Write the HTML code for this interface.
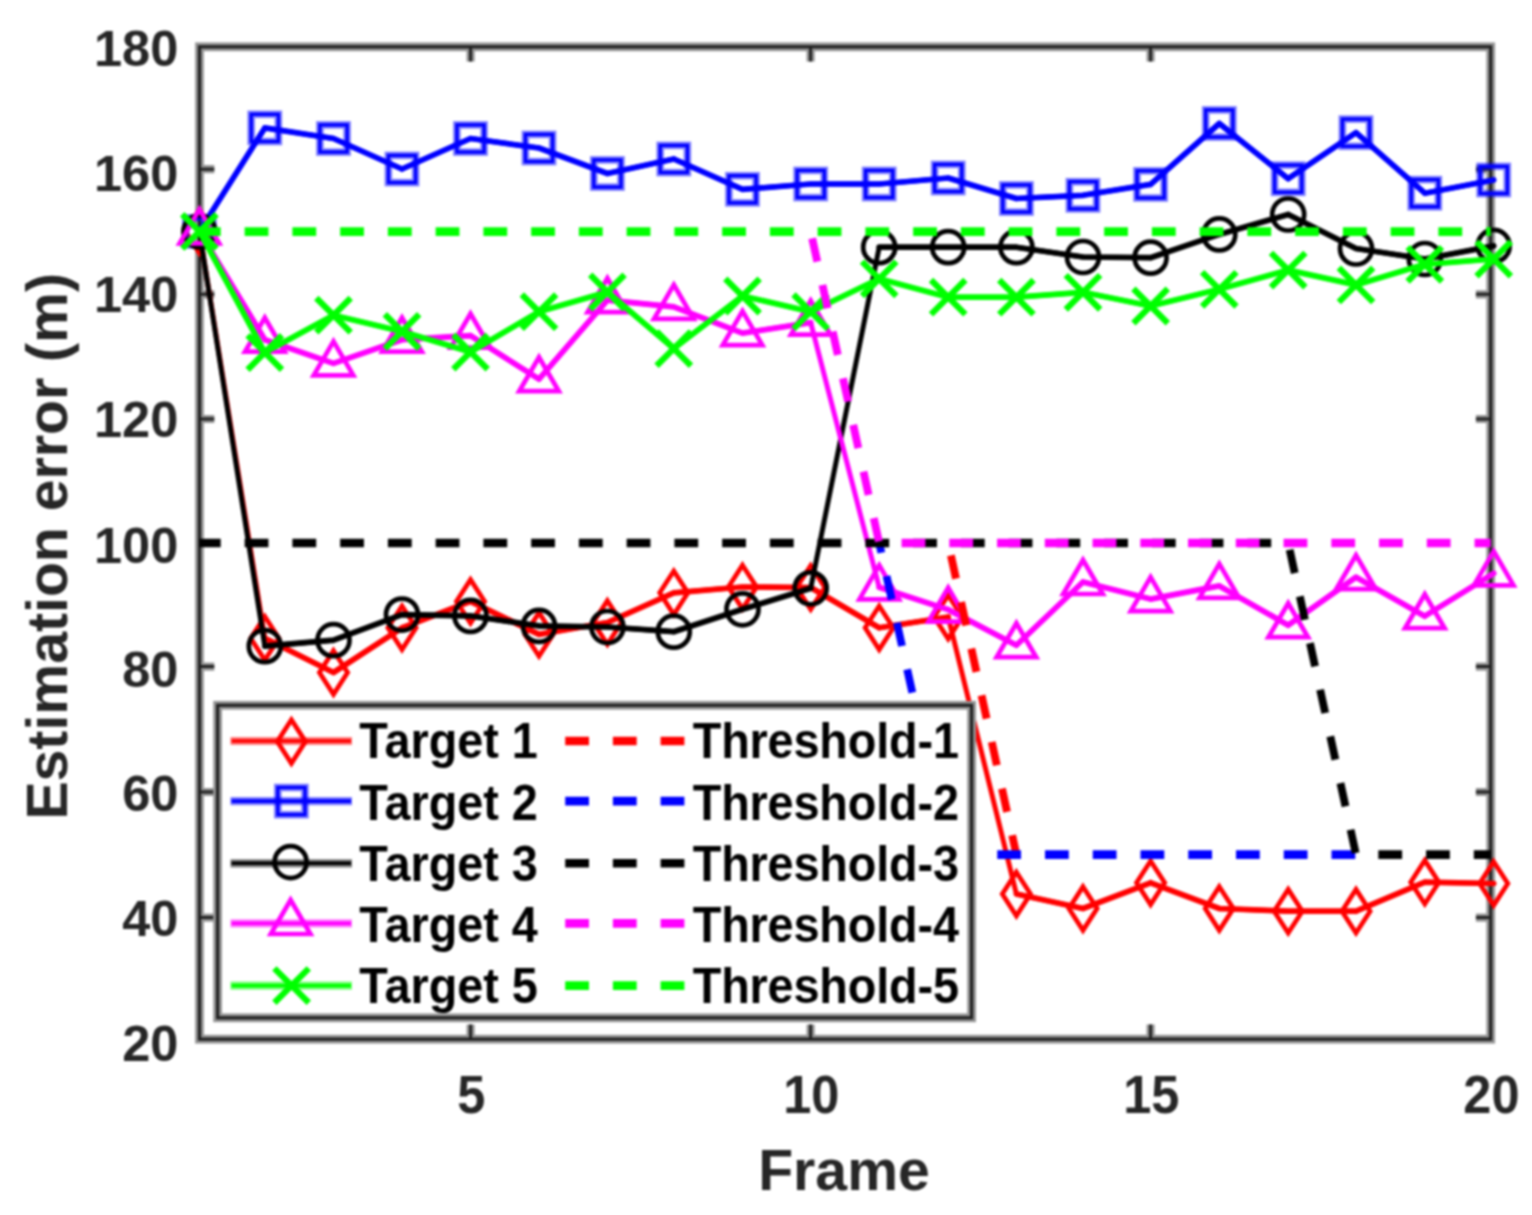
<!DOCTYPE html>
<html lang="en">
<head>
<meta charset="utf-8">
<title>Estimation error per frame</title>
<style>
html,body{margin:0;padding:0;background:#ffffff;}
body{width:1532px;height:1215px;overflow:hidden;font-family:"Liberation Sans",Arial,Helvetica,sans-serif;}
svg{display:block;}
</style>
</head>
<body>
<svg width="1532" height="1215" viewBox="0 0 1532 1215" font-family="'Liberation Sans', Arial, Helvetica, sans-serif" font-weight="bold">
<rect width="1532" height="1215" fill="#ffffff"/>
<defs><filter id="soft" color-interpolation-filters="sRGB" x="0" y="0" width="1532" height="1215" filterUnits="userSpaceOnUse"><feGaussianBlur stdDeviation="0.9"/></filter></defs>
<g filter="url(#soft)">
<rect width="1532" height="1215" fill="#ffffff"/>
<g id="axes"><rect x="199.5" y="46.8" width="1291.2" height="992.4" fill="none" stroke="#959595" stroke-width="8.8"/><path d="M199.5 169.2h14.8M1490.7 169.2h-14.8M199.5 294.3h14.8M1490.7 294.3h-14.8M199.5 419.0h14.8M1490.7 419.0h-14.8M199.5 543.0h14.8M1490.7 543.0h-14.8M199.5 666.6h14.8M1490.7 666.6h-14.8M199.5 792.0h14.8M1490.7 792.0h-14.8M199.5 917.6h14.8M1490.7 917.6h-14.8M470.6 1039.2v-14.8M470.6 46.8v14.8M810.6 1039.2v-14.8M810.6 46.8v14.8M1150.6 1039.2v-14.8M1150.6 46.8v14.8" fill="none" stroke="#959595" stroke-width="8.2"/><path d="M199.5 169.2h14.8M1490.7 169.2h-14.8M199.5 294.3h14.8M1490.7 294.3h-14.8M199.5 419.0h14.8M1490.7 419.0h-14.8M199.5 543.0h14.8M1490.7 543.0h-14.8M199.5 666.6h14.8M1490.7 666.6h-14.8M199.5 792.0h14.8M1490.7 792.0h-14.8M199.5 917.6h14.8M1490.7 917.6h-14.8M470.6 1039.2v-14.8M470.6 46.8v14.8M810.6 1039.2v-14.8M810.6 46.8v14.8M1150.6 1039.2v-14.8M1150.6 46.8v14.8" fill="none" stroke="#222222" stroke-width="3"/><rect x="199.5" y="46.8" width="1291.2" height="992.4" fill="none" stroke="#222222" stroke-width="3.2"/></g>
<g id="ticklabels" fill="#262626" font-size="50.5px">
<text x="178.3" y="65.6" text-anchor="end">180</text>
<text x="178.3" y="190.5" text-anchor="end">160</text>
<text x="178.3" y="312.0" text-anchor="end">140</text>
<text x="178.3" y="437.4" text-anchor="end">120</text>
<text x="178.3" y="562.5" text-anchor="end">100</text>
<text x="178.3" y="687.2" text-anchor="end">80</text>
<text x="178.3" y="811.1" text-anchor="end">60</text>
<text x="178.3" y="936.0" text-anchor="end">40</text>
<text x="178.3" y="1061.3" text-anchor="end">20</text>
<text transform="translate(471.3 1112.7) scale(1 1.05)" text-anchor="middle">5</text>
<text transform="translate(811.3 1112.7) scale(1 1.05)" text-anchor="middle">10</text>
<text transform="translate(1151.3 1112.7) scale(1 1.05)" text-anchor="middle">15</text>
<text transform="translate(1491.4 1112.7) scale(1 1.05)" text-anchor="middle">20</text>
</g>
<g id="labels" fill="#262626" font-size="57.2px">
<text x="844" y="1189.5" text-anchor="middle">Frame</text>
<text transform="translate(66.5 546.3) rotate(-90)" text-anchor="middle">Estimation error (m)</text>
</g>
<g id="data">
<polyline points="199.4,231.4 264.8,638.3 333.5,672.5 402.0,627.8 470.5,601.4 539.0,634.4 607.4,622.5 673.8,592.8 742.5,587.0 810.7,587.5 879.2,627.8 948.2,617.0 1016.4,894.0 1083.0,908.5 1150.6,882.8 1219.3,908.5 1288.2,911.2 1356.0,911.2 1424.8,882.2 1493.7,883.5" fill="none" stroke="#ff0000" stroke-width="5.0" stroke-linejoin="round"/>
<path d="M264.8 638.3L333.5 672.5M333.5 672.5L402.0 627.8M402.0 627.8L470.5 601.4M470.5 601.4L539.0 634.4M539.0 634.4L607.4 622.5M607.4 622.5L673.8 592.8M673.8 592.8L742.5 587.0M742.5 587.0L810.7 587.5M810.7 587.5L879.2 627.8M879.2 627.8L948.2 617.0M1016.4 894.0L1083.0 908.5M1083.0 908.5L1150.6 882.8M1150.6 882.8L1219.3 908.5M1219.3 908.5L1288.2 911.2M1288.2 911.2L1356.0 911.2M1356.0 911.2L1424.8 882.2M1424.8 882.2L1493.7 883.5" fill="none" stroke="#ff0000" stroke-width="5.7" stroke-linecap="round"/>
<path d="M199.4 209.6L213.5 231.4L199.4 253.2L185.3 231.4Z" stroke="#ff0000" stroke-width="4.7" fill="none" stroke-linejoin="miter"/>
<path d="M264.8 616.5L278.9 638.3L264.8 660.1L250.7 638.3Z" stroke="#ff0000" stroke-width="4.7" fill="none" stroke-linejoin="miter"/>
<path d="M333.5 650.7L347.6 672.5L333.5 694.3L319.4 672.5Z" stroke="#ff0000" stroke-width="4.7" fill="none" stroke-linejoin="miter"/>
<path d="M402.0 606.0L416.1 627.8L402.0 649.6L387.9 627.8Z" stroke="#ff0000" stroke-width="4.7" fill="none" stroke-linejoin="miter"/>
<path d="M470.5 579.6L484.6 601.4L470.5 623.2L456.4 601.4Z" stroke="#ff0000" stroke-width="4.7" fill="none" stroke-linejoin="miter"/>
<path d="M539.0 612.6L553.1 634.4L539.0 656.2L524.9 634.4Z" stroke="#ff0000" stroke-width="4.7" fill="none" stroke-linejoin="miter"/>
<path d="M607.4 600.7L621.5 622.5L607.4 644.3L593.3 622.5Z" stroke="#ff0000" stroke-width="4.7" fill="none" stroke-linejoin="miter"/>
<path d="M673.8 571.0L687.9 592.8L673.8 614.6L659.7 592.8Z" stroke="#ff0000" stroke-width="4.7" fill="none" stroke-linejoin="miter"/>
<path d="M742.5 565.2L756.6 587.0L742.5 608.8L728.4 587.0Z" stroke="#ff0000" stroke-width="4.7" fill="none" stroke-linejoin="miter"/>
<path d="M810.7 565.7L824.8 587.5L810.7 609.3L796.6 587.5Z" stroke="#ff0000" stroke-width="4.7" fill="none" stroke-linejoin="miter"/>
<path d="M879.2 606.0L893.3 627.8L879.2 649.6L865.1 627.8Z" stroke="#ff0000" stroke-width="4.7" fill="none" stroke-linejoin="miter"/>
<path d="M948.2 595.2L962.3 617.0L948.2 638.8L934.1 617.0Z" stroke="#ff0000" stroke-width="4.7" fill="none" stroke-linejoin="miter"/>
<path d="M1016.4 872.2L1030.5 894.0L1016.4 915.8L1002.3 894.0Z" stroke="#ff0000" stroke-width="4.7" fill="none" stroke-linejoin="miter"/>
<path d="M1083.0 886.7L1097.1 908.5L1083.0 930.3L1068.9 908.5Z" stroke="#ff0000" stroke-width="4.7" fill="none" stroke-linejoin="miter"/>
<path d="M1150.6 861.0L1164.7 882.8L1150.6 904.6L1136.5 882.8Z" stroke="#ff0000" stroke-width="4.7" fill="none" stroke-linejoin="miter"/>
<path d="M1219.3 886.7L1233.4 908.5L1219.3 930.3L1205.2 908.5Z" stroke="#ff0000" stroke-width="4.7" fill="none" stroke-linejoin="miter"/>
<path d="M1288.2 889.4L1302.3 911.2L1288.2 933.0L1274.1 911.2Z" stroke="#ff0000" stroke-width="4.7" fill="none" stroke-linejoin="miter"/>
<path d="M1356.0 889.4L1370.1 911.2L1356.0 933.0L1341.9 911.2Z" stroke="#ff0000" stroke-width="4.7" fill="none" stroke-linejoin="miter"/>
<path d="M1424.8 860.4L1438.9 882.2L1424.8 904.0L1410.7 882.2Z" stroke="#ff0000" stroke-width="4.7" fill="none" stroke-linejoin="miter"/>
<path d="M1493.7 861.7L1507.8 883.5L1493.7 905.3L1479.6 883.5Z" stroke="#ff0000" stroke-width="4.7" fill="none" stroke-linejoin="miter"/>
<polyline points="199.4,231.4 264.8,127.9 333.5,138.5 402.0,169.0 470.5,138.5 539.0,148.0 607.4,173.5 673.8,159.0 742.5,189.3 810.7,184.0 879.2,184.0 948.2,178.0 1016.4,198.5 1083.0,195.3 1150.6,184.4 1219.3,123.5 1288.2,178.7 1356.0,132.7 1424.8,193.2 1493.7,180.0" fill="none" stroke="#0000ff" stroke-width="5.0" stroke-linejoin="round"/>
<path d="M199.4 231.4L264.8 127.9M264.8 127.9L333.5 138.5M333.5 138.5L402.0 169.0M402.0 169.0L470.5 138.5M470.5 138.5L539.0 148.0M539.0 148.0L607.4 173.5M607.4 173.5L673.8 159.0M673.8 159.0L742.5 189.3M742.5 189.3L810.7 184.0M810.7 184.0L879.2 184.0M879.2 184.0L948.2 178.0M948.2 178.0L1016.4 198.5M1016.4 198.5L1083.0 195.3M1083.0 195.3L1150.6 184.4M1150.6 184.4L1219.3 123.5M1219.3 123.5L1288.2 178.7M1288.2 178.7L1356.0 132.7M1356.0 132.7L1424.8 193.2M1424.8 193.2L1493.7 180.0" fill="none" stroke="#0000ff" stroke-width="5.7" stroke-linecap="round"/>
<rect x="185.8" y="217.8" width="27.2" height="27.2" stroke="#0000ff" stroke-opacity="0.5" stroke-width="7.6" fill="none"/><rect x="185.8" y="217.8" width="27.2" height="27.2" stroke="#0000ff" stroke-width="3.4" fill="none"/>
<rect x="251.2" y="114.3" width="27.2" height="27.2" stroke="#0000ff" stroke-opacity="0.5" stroke-width="7.6" fill="none"/><rect x="251.2" y="114.3" width="27.2" height="27.2" stroke="#0000ff" stroke-width="3.4" fill="none"/>
<rect x="319.9" y="124.9" width="27.2" height="27.2" stroke="#0000ff" stroke-opacity="0.5" stroke-width="7.6" fill="none"/><rect x="319.9" y="124.9" width="27.2" height="27.2" stroke="#0000ff" stroke-width="3.4" fill="none"/>
<rect x="388.4" y="155.4" width="27.2" height="27.2" stroke="#0000ff" stroke-opacity="0.5" stroke-width="7.6" fill="none"/><rect x="388.4" y="155.4" width="27.2" height="27.2" stroke="#0000ff" stroke-width="3.4" fill="none"/>
<rect x="456.9" y="124.9" width="27.2" height="27.2" stroke="#0000ff" stroke-opacity="0.5" stroke-width="7.6" fill="none"/><rect x="456.9" y="124.9" width="27.2" height="27.2" stroke="#0000ff" stroke-width="3.4" fill="none"/>
<rect x="525.4" y="134.4" width="27.2" height="27.2" stroke="#0000ff" stroke-opacity="0.5" stroke-width="7.6" fill="none"/><rect x="525.4" y="134.4" width="27.2" height="27.2" stroke="#0000ff" stroke-width="3.4" fill="none"/>
<rect x="593.8" y="159.9" width="27.2" height="27.2" stroke="#0000ff" stroke-opacity="0.5" stroke-width="7.6" fill="none"/><rect x="593.8" y="159.9" width="27.2" height="27.2" stroke="#0000ff" stroke-width="3.4" fill="none"/>
<rect x="660.2" y="145.4" width="27.2" height="27.2" stroke="#0000ff" stroke-opacity="0.5" stroke-width="7.6" fill="none"/><rect x="660.2" y="145.4" width="27.2" height="27.2" stroke="#0000ff" stroke-width="3.4" fill="none"/>
<rect x="728.9" y="175.7" width="27.2" height="27.2" stroke="#0000ff" stroke-opacity="0.5" stroke-width="7.6" fill="none"/><rect x="728.9" y="175.7" width="27.2" height="27.2" stroke="#0000ff" stroke-width="3.4" fill="none"/>
<rect x="797.1" y="170.4" width="27.2" height="27.2" stroke="#0000ff" stroke-opacity="0.5" stroke-width="7.6" fill="none"/><rect x="797.1" y="170.4" width="27.2" height="27.2" stroke="#0000ff" stroke-width="3.4" fill="none"/>
<rect x="865.6" y="170.4" width="27.2" height="27.2" stroke="#0000ff" stroke-opacity="0.5" stroke-width="7.6" fill="none"/><rect x="865.6" y="170.4" width="27.2" height="27.2" stroke="#0000ff" stroke-width="3.4" fill="none"/>
<rect x="934.6" y="164.4" width="27.2" height="27.2" stroke="#0000ff" stroke-opacity="0.5" stroke-width="7.6" fill="none"/><rect x="934.6" y="164.4" width="27.2" height="27.2" stroke="#0000ff" stroke-width="3.4" fill="none"/>
<rect x="1002.8" y="184.9" width="27.2" height="27.2" stroke="#0000ff" stroke-opacity="0.5" stroke-width="7.6" fill="none"/><rect x="1002.8" y="184.9" width="27.2" height="27.2" stroke="#0000ff" stroke-width="3.4" fill="none"/>
<rect x="1069.4" y="181.7" width="27.2" height="27.2" stroke="#0000ff" stroke-opacity="0.5" stroke-width="7.6" fill="none"/><rect x="1069.4" y="181.7" width="27.2" height="27.2" stroke="#0000ff" stroke-width="3.4" fill="none"/>
<rect x="1137.0" y="170.8" width="27.2" height="27.2" stroke="#0000ff" stroke-opacity="0.5" stroke-width="7.6" fill="none"/><rect x="1137.0" y="170.8" width="27.2" height="27.2" stroke="#0000ff" stroke-width="3.4" fill="none"/>
<rect x="1205.7" y="109.9" width="27.2" height="27.2" stroke="#0000ff" stroke-opacity="0.5" stroke-width="7.6" fill="none"/><rect x="1205.7" y="109.9" width="27.2" height="27.2" stroke="#0000ff" stroke-width="3.4" fill="none"/>
<rect x="1274.6" y="165.1" width="27.2" height="27.2" stroke="#0000ff" stroke-opacity="0.5" stroke-width="7.6" fill="none"/><rect x="1274.6" y="165.1" width="27.2" height="27.2" stroke="#0000ff" stroke-width="3.4" fill="none"/>
<rect x="1342.4" y="119.1" width="27.2" height="27.2" stroke="#0000ff" stroke-opacity="0.5" stroke-width="7.6" fill="none"/><rect x="1342.4" y="119.1" width="27.2" height="27.2" stroke="#0000ff" stroke-width="3.4" fill="none"/>
<rect x="1411.2" y="179.6" width="27.2" height="27.2" stroke="#0000ff" stroke-opacity="0.5" stroke-width="7.6" fill="none"/><rect x="1411.2" y="179.6" width="27.2" height="27.2" stroke="#0000ff" stroke-width="3.4" fill="none"/>
<rect x="1480.1" y="166.4" width="27.2" height="27.2" stroke="#0000ff" stroke-opacity="0.5" stroke-width="7.6" fill="none"/><rect x="1480.1" y="166.4" width="27.2" height="27.2" stroke="#0000ff" stroke-width="3.4" fill="none"/>
<polyline points="199.4,231.4 264.8,646.2 333.5,640.2 402.0,614.6 470.5,615.9 539.0,625.9 607.4,627.0 673.8,631.7 742.5,609.3 810.7,588.3 879.2,247.2 948.2,247.2 1016.4,247.2 1083.0,257.0 1150.6,257.7 1219.3,234.4 1288.2,214.5 1356.0,248.5 1424.8,259.0 1493.7,245.9" fill="none" stroke="#000000" stroke-width="5.0" stroke-linejoin="round"/>
<path d="M264.8 646.2L333.5 640.2M333.5 640.2L402.0 614.6M402.0 614.6L470.5 615.9M470.5 615.9L539.0 625.9M539.0 625.9L607.4 627.0M607.4 627.0L673.8 631.7M673.8 631.7L742.5 609.3M742.5 609.3L810.7 588.3M879.2 247.2L948.2 247.2M948.2 247.2L1016.4 247.2M1016.4 247.2L1083.0 257.0M1083.0 257.0L1150.6 257.7M1150.6 257.7L1219.3 234.4M1219.3 234.4L1288.2 214.5M1288.2 214.5L1356.0 248.5M1356.0 248.5L1424.8 259.0M1424.8 259.0L1493.7 245.9" fill="none" stroke="#000000" stroke-width="5.7" stroke-linecap="round"/>
<circle cx="199.4" cy="231.4" r="16" stroke="#000000" stroke-width="4.7" fill="none"/>
<circle cx="264.8" cy="646.2" r="16" stroke="#000000" stroke-width="4.7" fill="none"/>
<circle cx="333.5" cy="640.2" r="16" stroke="#000000" stroke-width="4.7" fill="none"/>
<circle cx="402.0" cy="614.6" r="16" stroke="#000000" stroke-width="4.7" fill="none"/>
<circle cx="470.5" cy="615.9" r="16" stroke="#000000" stroke-width="4.7" fill="none"/>
<circle cx="539.0" cy="625.9" r="16" stroke="#000000" stroke-width="4.7" fill="none"/>
<circle cx="607.4" cy="627.0" r="16" stroke="#000000" stroke-width="4.7" fill="none"/>
<circle cx="673.8" cy="631.7" r="16" stroke="#000000" stroke-width="4.7" fill="none"/>
<circle cx="742.5" cy="609.3" r="16" stroke="#000000" stroke-width="4.7" fill="none"/>
<circle cx="810.7" cy="588.3" r="16" stroke="#000000" stroke-width="4.7" fill="none"/>
<circle cx="879.2" cy="247.2" r="16" stroke="#000000" stroke-width="4.7" fill="none"/>
<circle cx="948.2" cy="247.2" r="16" stroke="#000000" stroke-width="4.7" fill="none"/>
<circle cx="1016.4" cy="247.2" r="16" stroke="#000000" stroke-width="4.7" fill="none"/>
<circle cx="1083.0" cy="257.0" r="16" stroke="#000000" stroke-width="4.7" fill="none"/>
<circle cx="1150.6" cy="257.7" r="16" stroke="#000000" stroke-width="4.7" fill="none"/>
<circle cx="1219.3" cy="234.4" r="16" stroke="#000000" stroke-width="4.7" fill="none"/>
<circle cx="1288.2" cy="214.5" r="16" stroke="#000000" stroke-width="4.7" fill="none"/>
<circle cx="1356.0" cy="248.5" r="16" stroke="#000000" stroke-width="4.7" fill="none"/>
<circle cx="1424.8" cy="259.0" r="16" stroke="#000000" stroke-width="4.7" fill="none"/>
<circle cx="1493.7" cy="245.9" r="16" stroke="#000000" stroke-width="4.7" fill="none"/>
<polyline points="199.4,231.4 264.8,339.7 333.5,363.4 402.0,339.7 470.5,335.7 539.0,379.2 607.4,300.2 673.8,306.8 742.5,333.1 810.7,322.6 879.2,587.3 948.2,609.6 1016.4,645.2 1083.0,582.0 1150.6,599.1 1219.3,585.9 1288.2,625.2 1356.0,577.2 1424.8,616.2 1493.7,573.3" fill="none" stroke="#ff00ff" stroke-width="5.0" stroke-linejoin="round"/>
<path d="M199.4 231.4L264.8 339.7M264.8 339.7L333.5 363.4M333.5 363.4L402.0 339.7M402.0 339.7L470.5 335.7M470.5 335.7L539.0 379.2M539.0 379.2L607.4 300.2M607.4 300.2L673.8 306.8M673.8 306.8L742.5 333.1M742.5 333.1L810.7 322.6M879.2 587.3L948.2 609.6M948.2 609.6L1016.4 645.2M1016.4 645.2L1083.0 582.0M1083.0 582.0L1150.6 599.1M1150.6 599.1L1219.3 585.9M1219.3 585.9L1288.2 625.2M1288.2 625.2L1356.0 577.2M1356.0 577.2L1424.8 616.2M1424.8 616.2L1493.7 573.3" fill="none" stroke="#ff00ff" stroke-width="5.7" stroke-linecap="round"/>
<path d="M199.4 209.4L219.2 243.4L179.6 243.4Z" stroke="#ff00ff" stroke-width="4.7" fill="none" stroke-linejoin="miter"/>
<path d="M264.8 317.7L284.6 351.7L245.0 351.7Z" stroke="#ff00ff" stroke-width="4.7" fill="none" stroke-linejoin="miter"/>
<path d="M333.5 341.4L353.3 375.4L313.7 375.4Z" stroke="#ff00ff" stroke-width="4.7" fill="none" stroke-linejoin="miter"/>
<path d="M402.0 317.7L421.8 351.7L382.2 351.7Z" stroke="#ff00ff" stroke-width="4.7" fill="none" stroke-linejoin="miter"/>
<path d="M470.5 313.7L490.3 347.7L450.7 347.7Z" stroke="#ff00ff" stroke-width="4.7" fill="none" stroke-linejoin="miter"/>
<path d="M539.0 357.2L558.8 391.2L519.2 391.2Z" stroke="#ff00ff" stroke-width="4.7" fill="none" stroke-linejoin="miter"/>
<path d="M607.4 278.2L627.2 312.2L587.6 312.2Z" stroke="#ff00ff" stroke-width="4.7" fill="none" stroke-linejoin="miter"/>
<path d="M673.8 284.8L693.6 318.8L654.0 318.8Z" stroke="#ff00ff" stroke-width="4.7" fill="none" stroke-linejoin="miter"/>
<path d="M742.5 311.1L762.3 345.1L722.7 345.1Z" stroke="#ff00ff" stroke-width="4.7" fill="none" stroke-linejoin="miter"/>
<path d="M810.7 300.6L830.5 334.6L790.9 334.6Z" stroke="#ff00ff" stroke-width="4.7" fill="none" stroke-linejoin="miter"/>
<path d="M879.2 565.3L899.0 599.3L859.4 599.3Z" stroke="#ff00ff" stroke-width="4.7" fill="none" stroke-linejoin="miter"/>
<path d="M948.2 587.6L968.0 621.6L928.4 621.6Z" stroke="#ff00ff" stroke-width="4.7" fill="none" stroke-linejoin="miter"/>
<path d="M1016.4 623.2L1036.2 657.2L996.6 657.2Z" stroke="#ff00ff" stroke-width="4.7" fill="none" stroke-linejoin="miter"/>
<path d="M1083.0 560.0L1102.8 594.0L1063.2 594.0Z" stroke="#ff00ff" stroke-width="4.7" fill="none" stroke-linejoin="miter"/>
<path d="M1150.6 577.1L1170.4 611.1L1130.8 611.1Z" stroke="#ff00ff" stroke-width="4.7" fill="none" stroke-linejoin="miter"/>
<path d="M1219.3 563.9L1239.1 597.9L1199.5 597.9Z" stroke="#ff00ff" stroke-width="4.7" fill="none" stroke-linejoin="miter"/>
<path d="M1288.2 603.2L1308.0 637.2L1268.4 637.2Z" stroke="#ff00ff" stroke-width="4.7" fill="none" stroke-linejoin="miter"/>
<path d="M1356.0 555.2L1375.8 589.2L1336.2 589.2Z" stroke="#ff00ff" stroke-width="4.7" fill="none" stroke-linejoin="miter"/>
<path d="M1424.8 594.2L1444.6 628.2L1405.0 628.2Z" stroke="#ff00ff" stroke-width="4.7" fill="none" stroke-linejoin="miter"/>
<path d="M1493.7 551.3L1513.5 585.3L1473.9 585.3Z" stroke="#ff00ff" stroke-width="4.7" fill="none" stroke-linejoin="miter"/>
<polyline points="199.4,231.4 264.8,352.5 333.5,315.2 402.0,331.5 470.5,352.0 539.0,311.7 607.4,292.0 673.8,348.6 742.5,296.0 810.7,311.7 879.2,278.8 948.2,297.2 1016.4,297.2 1083.0,292.3 1150.6,306.0 1219.3,289.3 1288.2,270.1 1356.0,284.9 1424.8,264.3 1493.7,259.0" fill="none" stroke="#00ff00" stroke-width="5.0" stroke-linejoin="round"/>
<path d="M199.4 231.4L264.8 352.5M264.8 352.5L333.5 315.2M333.5 315.2L402.0 331.5M402.0 331.5L470.5 352.0M470.5 352.0L539.0 311.7M539.0 311.7L607.4 292.0M607.4 292.0L673.8 348.6M673.8 348.6L742.5 296.0M742.5 296.0L810.7 311.7M810.7 311.7L879.2 278.8M879.2 278.8L948.2 297.2M948.2 297.2L1016.4 297.2M1016.4 297.2L1083.0 292.3M1083.0 292.3L1150.6 306.0M1150.6 306.0L1219.3 289.3M1219.3 289.3L1288.2 270.1M1288.2 270.1L1356.0 284.9M1356.0 284.9L1424.8 264.3M1424.8 264.3L1493.7 259.0" fill="none" stroke="#00ff00" stroke-width="5.7" stroke-linecap="round"/>
<path d="M182.2 214.2L216.6 248.6M182.2 248.6L216.6 214.2" stroke="#00ff00" stroke-width="6.2" fill="none"/>
<path d="M247.6 335.3L282.0 369.7M247.6 369.7L282.0 335.3" stroke="#00ff00" stroke-width="6.2" fill="none"/>
<path d="M316.3 298.0L350.7 332.4M316.3 332.4L350.7 298.0" stroke="#00ff00" stroke-width="6.2" fill="none"/>
<path d="M384.8 314.3L419.2 348.7M384.8 348.7L419.2 314.3" stroke="#00ff00" stroke-width="6.2" fill="none"/>
<path d="M453.3 334.8L487.7 369.2M453.3 369.2L487.7 334.8" stroke="#00ff00" stroke-width="6.2" fill="none"/>
<path d="M521.8 294.5L556.2 328.9M521.8 328.9L556.2 294.5" stroke="#00ff00" stroke-width="6.2" fill="none"/>
<path d="M590.2 274.8L624.6 309.2M590.2 309.2L624.6 274.8" stroke="#00ff00" stroke-width="6.2" fill="none"/>
<path d="M656.6 331.4L691.0 365.8M656.6 365.8L691.0 331.4" stroke="#00ff00" stroke-width="6.2" fill="none"/>
<path d="M725.3 278.8L759.7 313.2M725.3 313.2L759.7 278.8" stroke="#00ff00" stroke-width="6.2" fill="none"/>
<path d="M793.5 294.5L827.9 328.9M793.5 328.9L827.9 294.5" stroke="#00ff00" stroke-width="6.2" fill="none"/>
<path d="M862.0 261.6L896.4 296.0M862.0 296.0L896.4 261.6" stroke="#00ff00" stroke-width="6.2" fill="none"/>
<path d="M931.0 280.0L965.4 314.4M931.0 314.4L965.4 280.0" stroke="#00ff00" stroke-width="6.2" fill="none"/>
<path d="M999.2 280.0L1033.6 314.4M999.2 314.4L1033.6 280.0" stroke="#00ff00" stroke-width="6.2" fill="none"/>
<path d="M1065.8 275.1L1100.2 309.5M1065.8 309.5L1100.2 275.1" stroke="#00ff00" stroke-width="6.2" fill="none"/>
<path d="M1133.4 288.8L1167.8 323.2M1133.4 323.2L1167.8 288.8" stroke="#00ff00" stroke-width="6.2" fill="none"/>
<path d="M1202.1 272.1L1236.5 306.5M1202.1 306.5L1236.5 272.1" stroke="#00ff00" stroke-width="6.2" fill="none"/>
<path d="M1271.0 252.9L1305.4 287.3M1271.0 287.3L1305.4 252.9" stroke="#00ff00" stroke-width="6.2" fill="none"/>
<path d="M1338.8 267.7L1373.2 302.1M1338.8 302.1L1373.2 267.7" stroke="#00ff00" stroke-width="6.2" fill="none"/>
<path d="M1407.6 247.1L1442.0 281.5M1407.6 281.5L1442.0 247.1" stroke="#00ff00" stroke-width="6.2" fill="none"/>
<path d="M1476.5 241.8L1510.9 276.2M1476.5 276.2L1510.9 241.8" stroke="#00ff00" stroke-width="6.2" fill="none"/>
<path d="M948.2 543.0L1016.4 854.6" fill="none" stroke="#ff0000" stroke-width="7.8" stroke-dasharray="23.8 23.95" stroke-dashoffset="35.05"/>
<path d="M879.2 543.0L948.2 854.6" fill="none" stroke="#0000ff" stroke-width="7.8" stroke-dasharray="23.8 23.95" stroke-dashoffset="13.80"/>
<path d="M948.2 854.6L1356.0 854.6" fill="none" stroke="#0000ff" stroke-width="8.6" stroke-dasharray="23.8 23.95" stroke-dashoffset="46.45"/>
<path d="M199.4 543.0L1288.2 543.0" fill="none" stroke="#000000" stroke-width="8.6" stroke-dasharray="23.8 23.95" stroke-dashoffset="2.50"/>
<path d="M1288.2 543.0L1356.0 854.6" fill="none" stroke="#000000" stroke-width="7.8" stroke-dasharray="23.8 23.95" stroke-dashoffset="40.80"/>
<path d="M1356.0 854.6L1490.7 854.6" fill="none" stroke="#000000" stroke-width="8.6" stroke-dasharray="23.8 23.95" stroke-dashoffset="25.44"/>
<path d="M810.7 231.6L879.2 543.0" fill="none" stroke="#ff00ff" stroke-width="7.8" stroke-dasharray="23.8 23.95" stroke-dashoffset="40.80"/>
<path d="M879.2 543.0L1490.7 543.0" fill="none" stroke="#ff00ff" stroke-width="8.6" stroke-dasharray="23.8 23.95" stroke-dashoffset="25.40"/>
<path d="M199.4 231.6L1490.7 231.6" fill="none" stroke="#00ff00" stroke-width="8.6" stroke-dasharray="23.8 23.95" stroke-dashoffset="2.50"/>
</g>
<g id="legend">
<rect x="217.6" y="705.3" width="754.0" height="312.5" fill="#ffffff" stroke="#959595" stroke-width="8.8"/>
<rect x="217.6" y="705.3" width="754.0" height="312.5" fill="none" stroke="#222222" stroke-width="3.2"/>
<path d="M230.5 741.0H352" stroke="#ff0000" stroke-opacity="0.5" stroke-width="8.2" fill="none"/><path d="M231.5 741.0H351" stroke="#ff0000" stroke-width="3.6" fill="none"/>
<path d="M291.4 719.8L305.5 741.6L291.4 763.4L277.3 741.6Z" stroke="#ff0000" stroke-width="4.7" fill="none" stroke-linejoin="miter"/>
<text transform="translate(359.3 758.1) scale(1 1.05)" font-size="46.8px" fill="#000000">Target 1</text>
<path d="M565.2 741.0H684.4" stroke="#ff0000" stroke-width="8.6" stroke-dasharray="23.8 23.9" fill="none"/>
<text transform="translate(692.7 758.1) scale(1 1.05)" font-size="46.8px" letter-spacing="-0.15" fill="#000000">Threshold-1</text>
<path d="M230.5 801.1H352" stroke="#0000ff" stroke-opacity="0.5" stroke-width="8.2" fill="none"/><path d="M231.5 801.1H351" stroke="#0000ff" stroke-width="3.6" fill="none"/>
<rect x="277.8" y="787.5" width="27.2" height="27.2" stroke="#0000ff" stroke-opacity="0.5" stroke-width="7.6" fill="none"/><rect x="277.8" y="787.5" width="27.2" height="27.2" stroke="#0000ff" stroke-width="3.4" fill="none"/>
<text transform="translate(359.3 820.3) scale(1 1.05)" font-size="46.8px" fill="#000000">Target 2</text>
<path d="M565.2 801.1H684.4" stroke="#0000ff" stroke-width="8.6" stroke-dasharray="23.8 23.9" fill="none"/>
<text transform="translate(692.7 820.3) scale(1 1.05)" font-size="46.8px" letter-spacing="-0.15" fill="#000000">Threshold-2</text>
<path d="M230.5 863.3H352" stroke="#000000" stroke-opacity="0.5" stroke-width="8.2" fill="none"/><path d="M231.5 863.3H351" stroke="#000000" stroke-width="3.6" fill="none"/>
<circle cx="290.6" cy="862.1" r="16" stroke="#000000" stroke-width="4.7" fill="none"/>
<text transform="translate(359.3 881.1) scale(1 1.05)" font-size="46.8px" fill="#000000">Target 3</text>
<path d="M565.2 863.3H684.4" stroke="#000000" stroke-width="8.6" stroke-dasharray="23.8 23.9" fill="none"/>
<text transform="translate(692.7 881.1) scale(1 1.05)" font-size="46.8px" letter-spacing="-0.15" fill="#000000">Threshold-3</text>
<path d="M230.5 923.4H352" stroke="#ff00ff" stroke-opacity="0.5" stroke-width="8.2" fill="none"/><path d="M231.5 923.4H351" stroke="#ff00ff" stroke-width="3.6" fill="none"/>
<path d="M290.6 900.0L310.4 934.0L270.8 934.0Z" stroke="#ff00ff" stroke-width="4.7" fill="none" stroke-linejoin="miter"/>
<text transform="translate(359.3 941.8) scale(1 1.05)" font-size="46.8px" fill="#000000">Target 4</text>
<path d="M565.2 923.4H684.4" stroke="#ff00ff" stroke-width="8.6" stroke-dasharray="23.8 23.9" fill="none"/>
<text transform="translate(692.7 941.8) scale(1 1.05)" font-size="46.8px" letter-spacing="-0.15" fill="#000000">Threshold-4</text>
<path d="M230.5 985.6H352" stroke="#00ff00" stroke-opacity="0.5" stroke-width="8.2" fill="none"/><path d="M231.5 985.6H351" stroke="#00ff00" stroke-width="3.6" fill="none"/>
<path d="M274.4 968.4L308.8 1002.8M274.4 1002.8L308.8 968.4" stroke="#00ff00" stroke-width="6.2" fill="none"/>
<text transform="translate(359.3 1002.5) scale(1 1.05)" font-size="46.8px" fill="#000000">Target 5</text>
<path d="M565.2 985.6H684.4" stroke="#00ff00" stroke-width="8.6" stroke-dasharray="23.8 23.9" fill="none"/>
<text transform="translate(692.7 1002.5) scale(1 1.05)" font-size="46.8px" letter-spacing="-0.15" fill="#000000">Threshold-5</text>
</g>
</g>
</svg>
</body>
</html>
